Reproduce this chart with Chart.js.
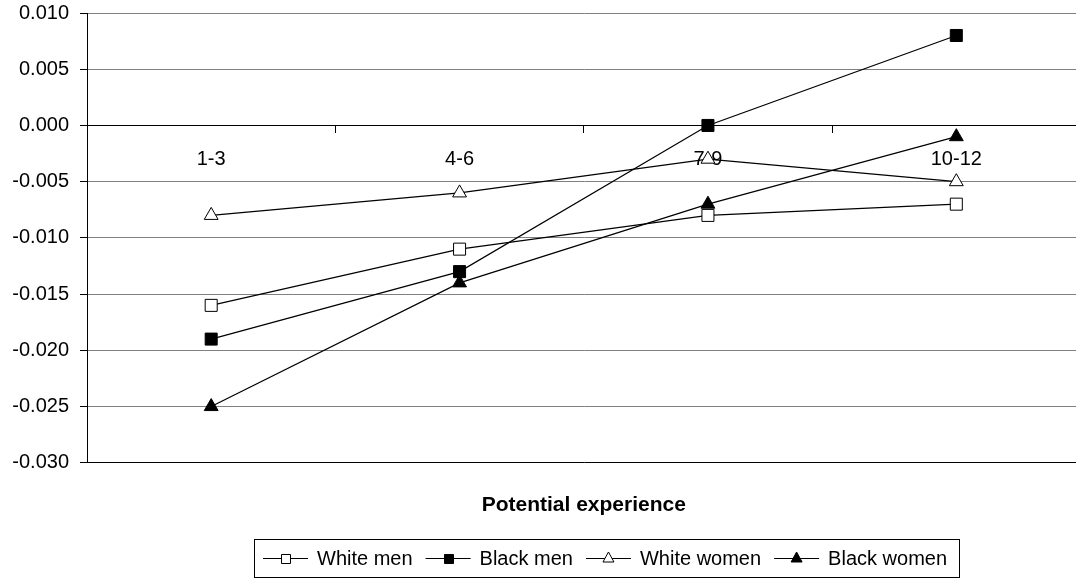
<!DOCTYPE html>
<html>
<head>
<meta charset="utf-8">
<script src="https://cdn.jsdelivr.net/npm/chart.js@4/dist/chart.umd.min.js"></script>
<style>
  html, body { margin: 0; padding: 0; background: #fff; overflow: hidden; }
  #wrap { width: 1090px; height: 578px; position: relative; }
</style>
</head>
<body>
<div id="wrap"><canvas id="c" width="1090" height="578"></canvas></div>
<script>
const categories = ['1-3', '4-6', '7-9', '10-12'];
const whiteMen   = [-0.016, -0.011, -0.008, -0.007];
const blackMen   = [-0.019, -0.013, 0.000, 0.008];
const whiteWomen = [-0.008, -0.006, -0.003, -0.005];
const blackWomen = [-0.025, -0.014, -0.007, -0.001];
const seriesNames = ['White men', 'Black men', 'White women', 'Black women'];
const yMin = -0.030, yMax = 0.010, yStep = 0.005;
const axisTitle = 'Potential experience';

const FONT = "'Liberation Sans', Arial, sans-serif";

function ds(label, data, style, fill) {
  return {
    label, data,
    borderColor: '#000', borderWidth: 1.2,
    pointStyle: style, pointRadius: style === 'rect' ? 8.5 : 8, pointHoverRadius: style === 'rect' ? 8.5 : 8,
    pointBackgroundColor: fill, pointBorderColor: '#000', pointBorderWidth: 1,
    fill: false, tension: 0, _mk: style, _fill: fill
  };
}

const legendPlugin = {
  id: 'customLegend',
  afterDraw(chart) {
    const ctx = chart.ctx;
    ctx.save();
    ctx.font = '20px ' + FONT;
    const left = 254, top = 539, bottom = 577, cy = 558;
    const lineW = 45, gapT = 9, gapI = 13, padL = 9, padR = 12;
    let x = left + padL;
    const items = chart.data.datasets.map(d => ({ d, w: ctx.measureText(d.label).width }));
    let total = padL;
    items.forEach((it, i) => { total += lineW + gapT + it.w + (i < items.length - 1 ? gapI : 0); });
    total += padR;
    ctx.strokeStyle = '#000'; ctx.lineWidth = 1;
    ctx.strokeRect(left + 0.5, top + 0.5, Math.round(total), bottom - top);
    items.forEach(it => {
      ctx.strokeStyle = '#000'; ctx.lineWidth = 1.2;
      ctx.beginPath(); ctx.moveTo(x, cy + 0.5); ctx.lineTo(x + lineW, cy + 0.5); ctx.stroke();
      const mx = x + lineW / 2;
      ctx.fillStyle = it.d._fill; ctx.lineWidth = 1;
      ctx.beginPath();
      if (it.d._mk === 'rect') {
        ctx.rect(Math.round(mx - 4.5) + 0.5, Math.round(cy - 4.5) + 0.5, 9, 9);
      } else {
        ctx.moveTo(mx, cy - 6); ctx.lineTo(mx + 5.5, cy + 4); ctx.lineTo(mx - 5.5, cy + 4); ctx.closePath();
      }
      ctx.fill(); ctx.stroke();
      ctx.fillStyle = '#000'; ctx.textBaseline = 'middle'; ctx.textAlign = 'left';
      ctx.fillText(it.d.label, x + lineW + gapT, cy + 1);
      x += lineW + gapT + it.w + gapI;
    });
    ctx.restore();
  }
};

new Chart(document.getElementById('c'), {
  type: 'line',
  data: {
    labels: categories,
    datasets: [
      ds(seriesNames[0], whiteMen, 'rect', '#fff'),
      ds(seriesNames[1], blackMen, 'rect', '#000'),
      ds(seriesNames[2], whiteWomen, 'triangle', '#fff'),
      ds(seriesNames[3], blackWomen, 'triangle', '#000')
    ]
  },
  options: {
    responsive: false,
    animation: false,
    layout: { padding: { left: 0, right: 0, top: 13, bottom: 60 } },
    plugins: {
      legend: { display: false },
      tooltip: { enabled: false },
      title: {
        display: true, text: axisTitle, position: 'bottom', fullSize: false,
        color: '#000', font: { family: FONT, size: 21, weight: 'bold' },
        padding: { top: 30, bottom: 0 }
      }
    },
    scales: {
      x: {
        type: 'category',
        offset: true,
        position: { y: 0 },
        afterFit(scale) { scale.paddingLeft = 0; scale.paddingRight = 0; },
        grid: { display: true, offset: true, drawOnChartArea: false, drawTicks: true, tickLength: 7, color: '#000' },
        border: { display: true, color: '#000', width: 1 },
        ticks: { color: '#000', font: { family: FONT, size: 20 }, padding: 15, maxRotation: 0, autoSkip: false }
      },
      y: {
        min: yMin, max: yMax,
        afterFit(scale) { scale.width = 87; scale.paddingTop = 0; scale.paddingBottom = 0; },
        grid: {
          color: ctx => (ctx.tick && (Math.abs(ctx.tick.value) < 1e-9 || Math.abs(ctx.tick.value - yMin) < 1e-9)) ? '#000' : '#808080',
          tickColor: '#000', tickLength: 7, lineWidth: 1
        },
        border: { display: true, color: '#000', width: 1 },
        ticks: {
          stepSize: yStep, color: '#000', font: { family: FONT, size: 20 }, padding: 11,
          callback: v => (Math.abs(v) < 1e-12 ? 0 : v).toFixed(3)
        }
      }
    }
  },
  plugins: [legendPlugin]
});
</script>
</body>
</html>
